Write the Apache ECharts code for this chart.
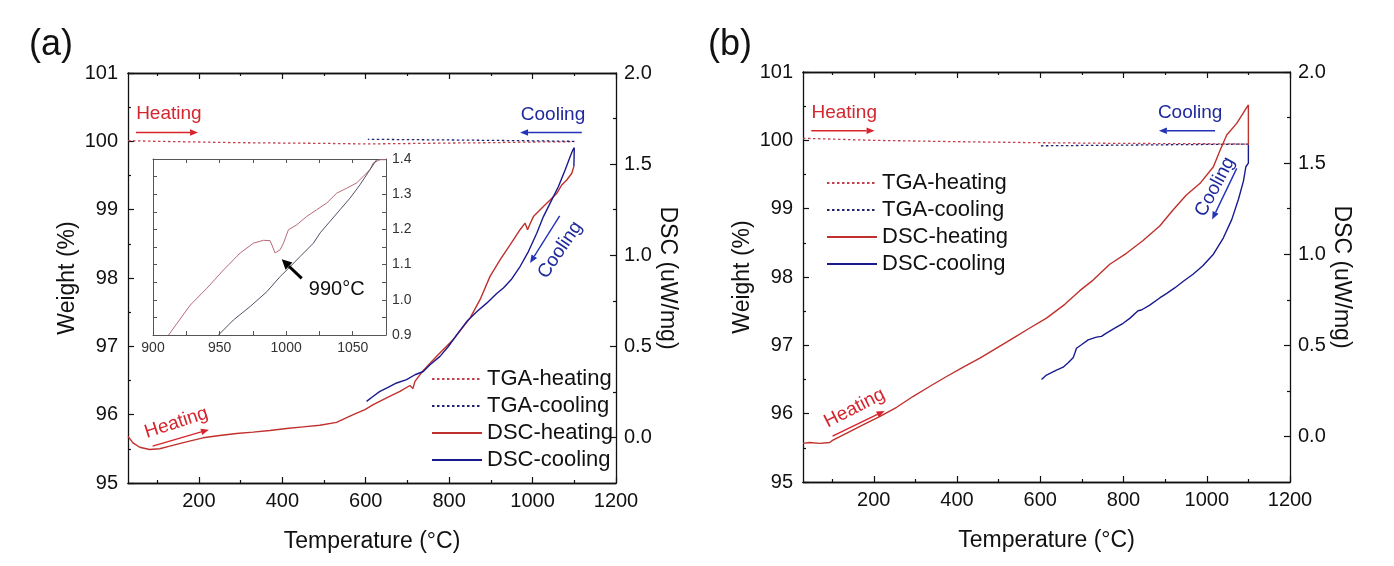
<!DOCTYPE html>
<html>
<head>
<meta charset="utf-8">
<script src="https://cdn.jsdelivr.net/npm/echarts@6/dist/echarts.min.js"></script>
<style>
html,body{margin:0;padding:0;background:#fff;}
#chart{width:1394px;height:566px;}
</style>
</head>
<body>
<div id="chart"></div>
<script>
// ---------------- DATA ----------------
// Panel (a) : [temperature °C, value]
const aTgaHeat = [[30,100.01],[100,100.0],[200,99.99],[300,99.98],[400,99.975],[500,99.97],[600,99.962],[700,99.968],[800,99.975],[900,99.98],[1000,99.99],[1100,99.995]];
const aTgaCool = [[1100,100.0],[1000,100.008],[900,100.014],[800,100.02],[700,100.025],[605,100.03]];
const aDscHeat = [[30,0.006],[42,-0.030],[58,-0.054],[82,-0.066],[106,-0.062],[130,-0.048],[170,-0.024],[210,-0.002],[250,0.011],[290,0.022],[330,0.029],[370,0.038],[410,0.049],[450,0.058],[490,0.067],[530,0.083],[570,0.125],[598,0.153],[618,0.180],[650,0.217],[682,0.253],[706,0.285],[713,0.268],[718,0.308],[738,0.368],[770,0.445],[810,0.537],[850,0.655],[874,0.756],[898,0.884],[922,0.975],[946,1.057],[970,1.140],[982,1.176],[988,1.140],[993,1.167],[1002,1.212],[1026,1.267],[1042,1.303],[1058,1.340],[1070,1.386],[1082,1.413],[1094,1.450],[1099,1.487]];
const aDscCool = [[1099,1.487],[1100,1.59],[1096,1.575],[1090,1.541],[1078,1.468],[1062,1.377],[1046,1.304],[1026,1.212],[1010,1.121],[990,1.020],[970,0.938],[950,0.870],[930,0.820],[914,0.790],[890,0.737],[866,0.690],[842,0.636],[818,0.563],[798,0.499],[778,0.445],[754,0.399],[738,0.362],[718,0.344],[698,0.317],[674,0.299],[650,0.271],[634,0.253],[618,0.226],[602,0.198]];

// Panel (b)
const bTgaHeat = [[30,100.03],[200,100.0],[400,99.98],[600,99.965],[800,99.955],[1000,99.95],[1100,99.945]];
const bTgaCool = [[1100,99.945],[1000,99.94],[900,99.935],[800,99.93],[700,99.925],[600,99.92]];
const bDscHeat = [[30,-0.038],[46,-0.033],[70,-0.038],[94,-0.033],[102,-0.020],[134,0.017],[174,0.063],[214,0.109],[255,0.160],[294,0.219],[334,0.274],[375,0.329],[415,0.380],[455,0.430],[495,0.485],[535,0.540],[575,0.595],[615,0.649],[659,0.725],[695,0.800],[727,0.858],[767,0.945],[807,1.005],[847,1.075],[887,1.155],[919,1.243],[951,1.325],[984,1.389],[1016,1.480],[1032,1.571],[1048,1.654],[1072,1.718],[1100,1.819],[1100,1.60]];
const bDscCool = [[1100,1.60],[1100,1.50],[1094,1.48],[1088,1.40],[1076,1.30],[1060,1.19],[1040,1.09],[1016,1.00],[990,0.935],[967,0.89],[943,0.85],[923,0.815],[904,0.785],[887,0.760],[863,0.721],[843,0.694],[835,0.690],[831,0.685],[815,0.648],[799,0.621],[779,0.594],[759,0.567],[747,0.549],[735,0.545],[715,0.530],[699,0.503],[687,0.484],[683,0.457],[679,0.432],[667,0.405],[655,0.380],[639,0.364],[627,0.350],[615,0.337],[603,0.313]];

// Inset of (a)
const insetHeat = [[911.7,0.9],[918,0.933],[928,0.985],[940.5,1.033],[953,1.085],[965.5,1.133],[975.5,1.161],[983,1.169],[988,1.168],[991.7,1.133],[995.5,1.142],[998,1.161],[1001.7,1.199],[1008,1.213],[1015.5,1.237],[1023,1.256],[1030.5,1.275],[1038,1.303],[1045.5,1.317],[1053,1.332],[1063,1.37],[1065.5,1.389],[1070.5,1.398],[1075,1.398]];
const insetCool = [[949.2,0.9],[960.5,0.943],[973,0.981],[985.5,1.023],[995.5,1.066],[1003,1.094],[1010.5,1.123],[1020.5,1.161],[1025.5,1.190],[1033,1.223],[1040.5,1.256],[1048,1.289],[1055.5,1.327],[1063,1.37],[1068,1.398]];

// Tick values
const xMajorTicks = [200,400,600,800,1000,1200];
const xMinorTicks = [100,300,500,700,900,1100];
const dscMajorTicks = [0,0.5,1.0,1.5,2.0];
const dscMinorTicks = [0.25,0.75,1.25,1.75];
const legendNames = ['TGA-heating','TGA-cooling','DSC-heating','DSC-cooling'];

// Annotations (data coordinates: temperature, weight)
const annTextsA = [
  {text:'Heating', at:[128,100.41], rot:0, c:'red'},
  {text:'Cooling', at:[1049,100.39], rot:0, c:'blue'},
  {text:'Cooling', at:[1066,98.41], rot:56, c:'blue'},
  {text:'Heating', at:[146,95.88], rot:18, c:'red'}
];
const annArrowsA = [
  {from:[49,100.13], to:[198,100.13], c:'red'},
  {from:[1118,100.13], to:[970,100.13], c:'blue'},
  {from:[1065,98.91], to:[994,98.22], c:'blue'},
  {from:[89,95.54], to:[224,95.78], c:'red'}
];
const annTextsB = [
  {text:'Heating', at:[129,100.40], rot:0, c:'red'},
  {text:'Cooling', at:[960,100.40], rot:0, c:'blue'},
  {text:'Cooling', at:[1020,99.32], rot:62, c:'blue'},
  {text:'Heating', at:[154,96.08], rot:27, c:'red'}
];
const annArrowsB = [
  {from:[50,100.14], to:[202,100.14], c:'red'},
  {from:[1020,100.14], to:[885,100.14], c:'blue'},
  {from:[1072,99.59], to:[1013,98.84], c:'blue'},
  {from:[101,95.67], to:[226,96.04], c:'red'}
];
const insetNote = {text:'990°C', at:[1038,1.028], arrowFrom:[1011.7,1.061], arrowTo:[996.7,1.115]};

// ---------------- STYLE ----------------
const FONT = 'Liberation Sans, Arial, sans-serif';
const C_RED_LINE = '#c0302c';
const C_BLUE_LINE = '#1a1a90';
const C_RED_DOT = '#c2404e';
const C_BLUE_DOT = '#22226e';
const C_TXT = {red:'#d3262e', blue:'#1f2a9c'};
const C_ARROW = {red:'#d8252d', blue:'#2233b8'};
const AX = '#111';

const chart = echarts.init(document.getElementById('chart'), null, {renderer:'canvas'});

const grids = [
  {left:128, top:73, width:488, height:410, outerBoundsMode:'none'},
  {left:803, top:72, width:487, height:410, outerBoundsMode:'none'},
  {left:153, top:159, width:233, height:176, outerBoundsMode:'none'}
];

function xMain(gi, pos, ticks, len, showLabel, showName) {
  return {
    type:'value', gridIndex:gi, position:pos, min:30, max:1200,
    axisLine:{show:true, onZero:false, lineStyle:{color:AX, width:1.3}},
    axisTick:{show:true, inside:true, length:len, customValues:ticks, lineStyle:{color:AX, width:1.2}},
    axisLabel:{show:showLabel, customValues:ticks, color:AX, fontSize:20, fontFamily:FONT, margin:8,
      formatter:(v)=>String(Math.round(v))},
    splitLine:{show:false},
    name: showName ? 'Temperature (°C)' : '',
    nameLocation:'middle', nameGap:47,
    nameTextStyle:{fontSize:23, color:AX, fontFamily:FONT}
  };
}
function yLeft(gi) {
  return {
    type:'value', gridIndex:gi, position:'left', min:95, max:101, interval:1,
    axisLine:{show:true, onZero:false, lineStyle:{color:AX, width:1.3}},
    axisTick:{show:true, inside:true, length:6, lineStyle:{color:AX, width:1.2}},
    minorTick:{show:true, splitNumber:2, length:3, lineStyle:{color:AX, width:1.2}},
    axisLabel:{color:AX, fontSize:20, fontFamily:FONT, margin:10},
    splitLine:{show:false},
    name:'Weight (%)', nameLocation:'middle', nameGap:49,
    nameTextStyle:{fontSize:23, color:AX, fontFamily:FONT}
  };
}
function yRight(gi, ticks, len, showLabel, showName) {
  return {
    type:'value', gridIndex:gi, position:'right', min:-0.25, max:2.0,
    axisLine:{show:showLabel, onZero:false, lineStyle:{color:AX, width:1.3}},
    axisTick:{show:true, inside:true, length:len, customValues:ticks, lineStyle:{color:AX, width:1.2}},
    axisLabel:{show:showLabel, customValues:ticks, color:AX, fontSize:20, fontFamily:FONT, margin:8,
      formatter:(v)=>Number(v).toFixed(1)},
    splitLine:{show:false},
    name: showName ? 'DSC (uW/mg)' : '', nameLocation:'middle', nameGap:37, nameRotate:-90,
    nameTextStyle:{fontSize:23, color:AX, fontFamily:FONT}
  };
}
const xAxes = [
  xMain(0,'bottom',xMajorTicks,6,true,true),
  xMain(0,'bottom',xMinorTicks,3,false,false),
  xMain(0,'top',xMajorTicks,6,false,false),
  xMain(0,'top',xMinorTicks,3,false,false),
  xMain(1,'bottom',xMajorTicks,6,true,true),
  xMain(1,'bottom',xMinorTicks,3,false,false),
  xMain(1,'top',xMajorTicks,6,false,false),
  xMain(1,'top',xMinorTicks,3,false,false),
  {type:'value', gridIndex:2, position:'bottom', min:900, max:1075, interval:25,
   axisLine:{onZero:false, lineStyle:{color:'#555', width:1}},
   axisTick:{inside:true, length:4, lineStyle:{color:'#555'}},
   axisLabel:{color:'#333', fontSize:14, fontFamily:FONT, margin:6, showMaxLabel:false,
     formatter:(v)=> (Math.round(v)%50===0 ? String(Math.round(v)) : '')},
   splitLine:{show:false}},
  {type:'value', gridIndex:2, position:'top', min:900, max:1075, interval:25,
   axisLine:{onZero:false, lineStyle:{color:'#555', width:1}},
   axisTick:{inside:true, length:4, lineStyle:{color:'#555'}},
   axisLabel:{show:false}, splitLine:{show:false}}
];
const yAxes = [
  yLeft(0),
  yRight(0,dscMajorTicks,6,true,true),
  yRight(0,dscMinorTicks,3,false,false),
  yLeft(1),
  yRight(1,dscMajorTicks,6,true,true),
  yRight(1,dscMinorTicks,3,false,false),
  {type:'value', gridIndex:2, position:'left', min:0.9, max:1.4, interval:0.05,
   axisLine:{onZero:false, lineStyle:{color:'#555', width:1}},
   axisTick:{inside:true, length:4, lineStyle:{color:'#555'}},
   axisLabel:{show:false}, splitLine:{show:false}},
  {type:'value', gridIndex:2, position:'right', min:0.9, max:1.4, interval:0.05,
   axisLine:{onZero:false, lineStyle:{color:'#555', width:1}},
   axisTick:{inside:true, length:4, lineStyle:{color:'#555'}},
   axisLabel:{color:'#333', fontSize:14, fontFamily:FONT, margin:6,
     formatter:(v)=>{const t=v*10; return Math.abs(t-Math.round(t))<1e-6 ? (Math.round(t)/10).toFixed(1) : '';}},
   splitLine:{show:false}}
];

function lineSeries(name, data, xi, yi, color, dotted, width) {
  return {
    type:'line', name, data, xAxisIndex:xi, yAxisIndex:yi, symbol:'none', showSymbol:false,
    lineStyle:{color, width, type: dotted ? [2.5,2.5] : 'solid'},
    itemStyle:{color}, smooth:false, clip:true, silent:true
  };
}
const series = [
  lineSeries('TGA-heating', aTgaHeat, 0, 0, C_RED_DOT, true, 1.3),
  lineSeries('TGA-cooling', aTgaCool, 0, 0, C_BLUE_DOT, true, 1.3),
  lineSeries('DSC-heating', aDscHeat, 0, 1, C_RED_LINE, false, 1.4),
  lineSeries('DSC-cooling', aDscCool, 0, 1, C_BLUE_LINE, false, 1.4),
  lineSeries('TGA-heating', bTgaHeat, 4, 3, C_RED_DOT, true, 1.3),
  lineSeries('TGA-cooling', bTgaCool, 4, 3, C_BLUE_DOT, true, 1.3),
  lineSeries('DSC-heating', bDscHeat, 4, 4, C_RED_LINE, false, 1.4),
  lineSeries('DSC-cooling', bDscCool, 4, 4, C_BLUE_LINE, false, 1.4),
  lineSeries('inset-heating', insetHeat, 8, 7, '#b86a78', false, 1),
  lineSeries('inset-cooling', insetCool, 8, 7, '#505066', false, 1)
];

const legendBase = {
  orient:'vertical', itemWidth:50, itemHeight:14, itemGap:5, padding:0,
  itemStyle:{opacity:0},
  textStyle:{fontSize:22, color:AX, fontFamily:FONT}, data:legendNames,
  selectedMode:false
};

chart.setOption({
  animation:false,
  backgroundColor:'#fff',
  title:[
    {text:'(a)', left:24, top:22, textStyle:{fontSize:36, fontWeight:'normal', color:AX, fontFamily:FONT}},
    {text:'(b)', left:703, top:22, textStyle:{fontSize:36, fontWeight:'normal', color:AX, fontFamily:FONT}}
  ],
  grid:grids,
  xAxis:xAxes,
  yAxis:yAxes,
  legend:[
    Object.assign({left:431, top:368}, legendBase),
    Object.assign({left:826, top:172}, legendBase)
  ],
  series
});

// ---------------- ANNOTATIONS (positioned from data coordinates) ----------------
function toPx(xi, yi, pt){ return chart.convertToPixel({xAxisIndex:xi, yAxisIndex:yi}, pt); }
function arrowEls(p1, p2, color){
  const dx=p2[0]-p1[0], dy=p2[1]-p1[1], L=Math.hypot(dx,dy), ux=dx/L, uy=dy/L;
  const hl=8, hw=3.3;
  const base=[p2[0]-ux*hl, p2[1]-uy*hl];
  return [
    {type:'line', silent:true, shape:{x1:p1[0],y1:p1[1],x2:base[0],y2:base[1]}, style:{stroke:color, lineWidth:1.4}, z:100},
    {type:'polygon', silent:true, shape:{points:[p2,[base[0]-uy*hw, base[1]+ux*hw],[base[0]+uy*hw, base[1]-ux*hw]]}, style:{fill:color}, z:100}
  ];
}
function textEl(p, text, rotDeg, color, size){
  return {type:'text', silent:true, x:p[0], y:p[1], rotation:rotDeg*Math.PI/180, z:100,
    style:{text, fill:color, fontSize:size, fontFamily:FONT, align:'center', verticalAlign:'middle'}};
}
const graphics = [];
annTextsA.forEach(t=>graphics.push(textEl(toPx(0,0,t.at), t.text, t.rot, C_TXT[t.c], 19)));
annArrowsA.forEach(a=>graphics.push(...arrowEls(toPx(0,0,a.from), toPx(0,0,a.to), C_ARROW[a.c])));
annTextsB.forEach(t=>graphics.push(textEl(toPx(4,3,t.at), t.text, t.rot, C_TXT[t.c], 19)));
annArrowsB.forEach(a=>graphics.push(...arrowEls(toPx(4,3,a.from), toPx(4,3,a.to), C_ARROW[a.c])));
graphics.push(textEl(toPx(8,7,insetNote.at), insetNote.text, 0, AX, 20));
(function(){
  const p1=toPx(8,7,insetNote.arrowFrom), p2=toPx(8,7,insetNote.arrowTo);
  const dx=p2[0]-p1[0], dy=p2[1]-p1[1], L=Math.hypot(dx,dy), ux=dx/L, uy=dy/L;
  const hl=10, hw=5;
  const base=[p2[0]-ux*hl, p2[1]-uy*hl];
  graphics.push({type:'line', silent:true, shape:{x1:p1[0],y1:p1[1],x2:base[0],y2:base[1]}, style:{stroke:'#000', lineWidth:3}, z:100});
  graphics.push({type:'polygon', silent:true, shape:{points:[p2,[base[0]-uy*hw, base[1]+ux*hw],[base[0]+uy*hw, base[1]-ux*hw]]}, style:{fill:'#000'}, z:100});
})();
chart.setOption({graphic:graphics});
</script>
</body>
</html>
